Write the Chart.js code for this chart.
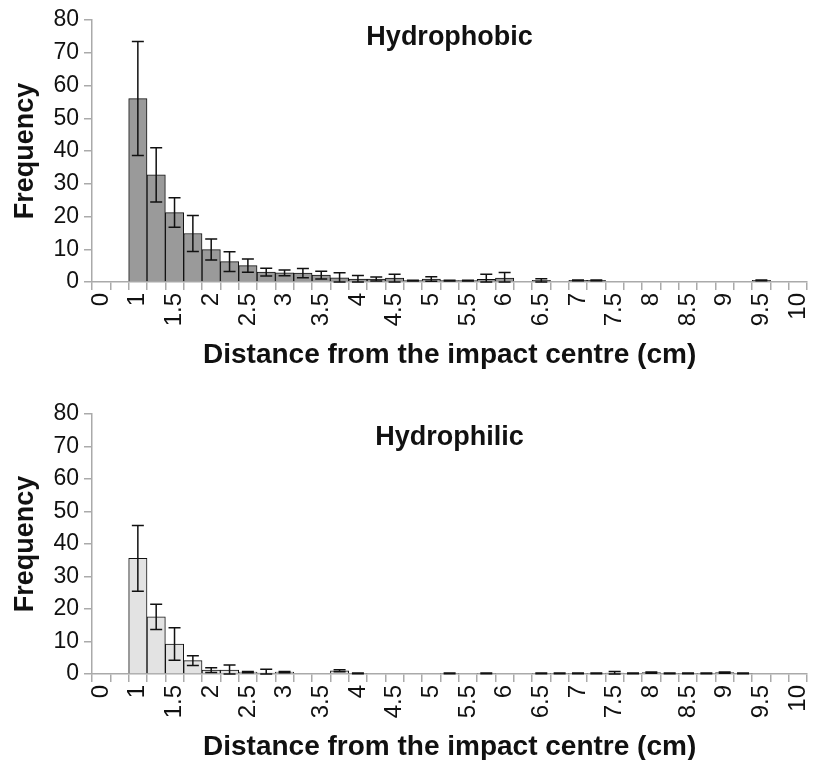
<!DOCTYPE html>
<html>
<head>
<meta charset="utf-8">
<script src="https://cdn.jsdelivr.net/npm/chart.js@4.4.1/dist/chart.umd.min.js"></script>
<style>
  html, body { margin: 0; padding: 0; background: #fff; overflow: hidden; width: 815px; height: 760px; }
  .panel { position: absolute; left: 0; width: 830px; height: 392px; }
</style>
</head>
<body>
<div class="panel" style="top:0"><canvas id="phobic" width="830" height="392"></canvas></div>
<div class="panel" style="top:392px"><canvas id="philic" width="830" height="392"></canvas></div>
<script>
// bins (cm) - first two are the wide 0 and 0.5 bins, then 0.25 steps
const distances = ['0', '0.5', '1', '1.25', '1.5', '1.75', '2', '2.25', '2.5', '2.75',
  '3', '3.25', '3.5', '3.75', '4', '4.25', '4.5', '4.75', '5', '5.25',
  '5.5', '5.75', '6', '6.25', '6.5', '6.75', '7', '7.25', '7.5', '7.75',
  '8', '8.25', '8.5', '8.75', '9', '9.25', '9.5', '9.75', '10'];

const hydrophobic = [0, 0, 56, 32.7, 21.2, 14.8, 9.9, 6.2, 5.0, 3.0,
  2.8, 2.7, 2.1, 1.3, 0.9, 0.9, 1.2, 0.4, 0.9, 0.4,
  0.4, 0.8, 1.2, 0, 0.5, 0, 0.5, 0.5, 0, 0,
  0, 0, 0, 0, 0, 0, 0.5, 0, 0];
const hydrophobicErr = [0, 0, 17.4, 8.3, 4.5, 5.5, 3.2, 3.0, 2.0, 1.2,
  0.9, 1.4, 1.2, 1.5, 1.1, 0.6, 1.2, 0.1, 0.7, 0.1,
  0.1, 1.6, 1.7, 0, 0.5, 0, 0.1, 0.1, 0, 0,
  0, 0, 0, 0, 0, 0, 0.1, 0, 0];

const hydrophilic = [0, 0, 35.6, 17.6, 9.2, 4.1, 1.2, 1.2, 0.6, 0.3,
  0.6, 0, 0, 1.0, 0.2, 0, 0, 0, 0, 0.2,
  0, 0.2, 0, 0, 0.2, 0.2, 0.2, 0.2, 0.3, 0.2,
  0.4, 0.2, 0.2, 0.2, 0.4, 0.2, 0, 0, 0];
const hydrophilicErr = [0, 0, 10.1, 3.9, 5.0, 1.5, 0.7, 1.6, 0.2, 1.2,
  0.2, 0, 0, 0.3, 0.1, 0, 0, 0, 0, 0.1,
  0, 0.1, 0, 0, 0.1, 0.1, 0.1, 0.1, 0.5, 0.1,
  0.2, 0.1, 0.1, 0.1, 0.2, 0.1, 0, 0, 0];

const yTicks = [0, 10, 20, 30, 40, 50, 60, 70, 80];

const FONT = '"Liberation Sans", Arial, Helvetica, sans-serif';
const AXIS = '#aaaaaa';

// error bars drawn through the chart's own scales
const errorBars = {
  id: 'errorBars',
  afterDatasetsDraw(chart, args, opts) {
    const ctx = chart.ctx, x = chart.scales.x, y = chart.scales.y;
    const vals = chart.data.datasets[0].data;
    ctx.save();
    ctx.strokeStyle = '#111';
    ctx.lineWidth = 1.5;
    vals.forEach((v, i) => {
      const e = opts.err[i];
      if (!v || !e) return;
      const cx = x.getPixelForValue(i);
      const hi = y.getPixelForValue(v + e);
      const lo = y.getPixelForValue(Math.max(0, v - e));
      ctx.beginPath();
      ctx.moveTo(cx, hi); ctx.lineTo(cx, lo);
      ctx.moveTo(cx - 6, hi); ctx.lineTo(cx + 6, hi);
      ctx.moveTo(cx - 6, lo); ctx.lineTo(cx + 6, lo);
      ctx.stroke();
    });
    ctx.restore();
  }
};

// panel title sits inside the plot area
const panelTitle = {
  id: 'panelTitle',
  afterDraw(chart, args, opts) {
    const ctx = chart.ctx, a = chart.chartArea;
    ctx.save();
    ctx.font = 'bold 27px ' + FONT;
    ctx.fillStyle = '#111';
    ctx.textAlign = 'center';
    ctx.textBaseline = 'middle';
    ctx.fillText(opts.text, (a.left + a.right) / 2, a.top + opts.dy);
    ctx.restore();
  }
};

function makeChart(id, values, errs, color, title, padTop, dy) {
  return new Chart(document.getElementById(id), {
    type: 'bar',
    data: {
      labels: distances,
      datasets: [{
        data: values,
        backgroundColor: color,
        borderColor: '#111',
        borderWidth: 1,
        borderSkipped: 'start',
        categoryPercentage: 1.0,
        barPercentage: 1.0
      }]
    },
    options: {
      responsive: false,
      animation: false,
      layout: { padding: { top: padTop, left: 0, right: 11, bottom: 0 } },
      plugins: {
        legend: { display: false },
        tooltip: { enabled: false },
        errorBars: { err: errs },
        panelTitle: { text: title, dy: dy }
      },
      scales: {
        x: {
          afterFit(s) { s.height = 110; },
          grid: { drawOnChartArea: false, drawTicks: true, tickLength: 8, color: AXIS, lineWidth: 1.5, offset: true },
          border: { color: AXIS, width: 1.5 },
          ticks: {
            autoSkip: false, minRotation: 90, maxRotation: 90, padding: 3,
            color: '#111', font: { family: FONT, size: 24 },
            callback(v, i) { return i % 2 === 0 ? distances[i] : ''; }
          },
          title: {
            display: true, text: 'Distance from the impact centre (cm)',
            color: '#111', font: { family: FONT, size: 28, weight: 'bold', lineHeight: 1.2 },
            padding: { top: 0, bottom: 20 }
          }
        },
        y: {
          min: 0, max: 80,
          afterFit(s) { s.width = 92; },
          afterBuildTicks(s) { s.ticks = yTicks.map(v => ({ value: v })); },
          grid: { drawOnChartArea: false, drawTicks: true, tickLength: 8, color: AXIS, lineWidth: 1.5 },
          border: { color: AXIS, width: 1.5 },
          ticks: { padding: 5, color: '#111', font: { family: FONT, size: 23 } },
          title: {
            display: true, text: 'Frequency',
            color: '#111', font: { family: FONT, size: 27, weight: 'bold', lineHeight: 1.2 },
            padding: { top: 9, bottom: 0 }
          }
        }
      }
    },
    plugins: [errorBars, panelTitle]
  });
}

makeChart('phobic', hydrophobic, hydrophobicErr, '#9a9a9a', 'Hydrophobic', 20, 18);
makeChart('philic', hydrophilic, hydrophilicErr, '#e3e3e3', 'Hydrophilic', 22, 24);
</script>
</body>
</html>
